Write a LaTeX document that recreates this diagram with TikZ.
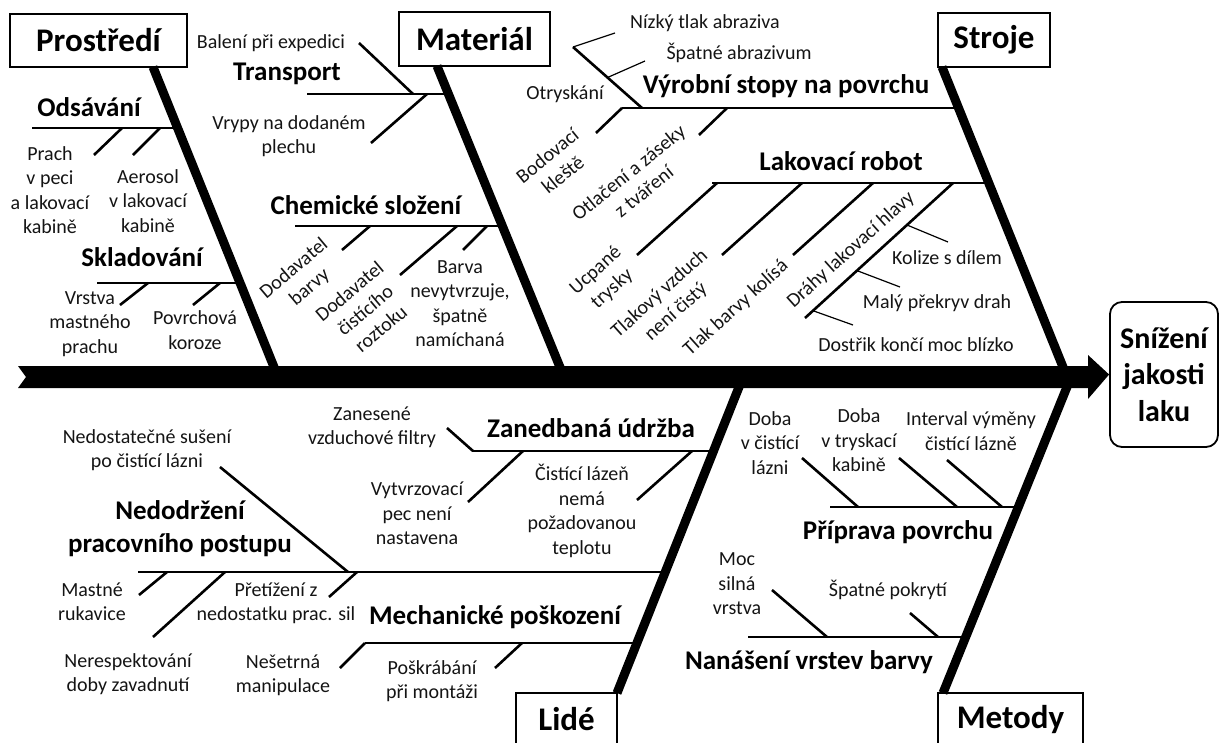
\documentclass[tikz,border=0pt]{standalone}
\usepackage{fontspec}
\setmainfont{Carlito}
\usetikzlibrary{calc}
\begin{document}
\begin{tikzpicture}[x=1pt,y=-1pt,
  small/.style={font=\fontsize{20}{24.4}\selectfont, align=center, inner sep=0pt, text=black!92},
  lbl/.style={font=\bfseries\fontsize{27}{33}\selectfont, align=center, inner sep=0pt},
  catbox/.style={draw, line width=1.2pt, font=\bfseries\fontsize{33}{38}\selectfont, inner sep=0pt},
  effbox/.style={draw, line width=1.8pt, rounded corners=12pt, font=\bfseries\fontsize{30}{36.6}\selectfont, align=center, inner sep=0pt},
  bone/.style={line width=2.6pt},
  hair/.style={line width=1.2pt},
  spine/.style={line width=9pt}]
\useasboundingbox (0,0) rectangle (1221,742);

% ---------- effect and main arrow ----------
\node[effbox, minimum width=108pt, minimum height=145pt] (eff) at (1164,374.5) {Snížení\\jakosti\\laku};
\coordinate (tail) at (26,377);
\fill (18,366) -- (1088,366) -- (1088,355) -- (eff.west) -- (1088,399) -- (1088,388) -- (18,388) -- (tail) -- cycle;

% ---------- category boxes ----------
\node[catbox, minimum width=177pt, minimum height=53pt] (env) at (98.5,40.5) {Prostředí};
\node[catbox, minimum width=151pt, minimum height=54pt] (mat) at (474.5,39) {Materiál};
\node[catbox, minimum width=112pt, minimum height=54pt] (mach) at (994,40) {Stroje};
\draw[line width=1.2pt] (516,760) |- (617,693) -- (617,760);
\node[font=\bfseries\fontsize{33}{38}\selectfont, inner sep=0pt] (ppl) at (566.5,719) {Lidé};
\draw[line width=1.2pt] (938,760) |- (1083,693) -- (1083,760);
\node[font=\bfseries\fontsize{33}{38}\selectfont, inner sep=0pt] (meth) at (1010.5,720) {Metody};

% ---------- spines ----------
\coordinate (envT) at (153,67);   \coordinate (envB) at (278,377);
\coordinate (matT) at (437,66);   \coordinate (matB) at (564,377);
\coordinate (macT) at (942,67);   \coordinate (macB) at (1067,377);
\coordinate (pplT) at (743,377);  \coordinate (pplB) at (617,693);
\coordinate (metT) at (1071,377); \coordinate (metB) at (943,693);
\draw[spine] (envT) -- (envB);
\draw[spine] (matT) -- (matB);
\draw[spine] (macT) -- (macB);
\draw[spine] (pplT) -- (pplB);
\draw[spine] (metT) -- (metB);

% ---------- Prostředí ----------
\node[lbl] (ods) at (89,107) {Odsávání};
\coordinate (odsS) at (32,128); \coordinate (odsJ) at (177.6,128);
\draw[bone] (odsS) -- (odsJ);
\coordinate (o1a) at (94,155); \coordinate (o1b) at (122,128);
\coordinate (o2a) at (133,155); \coordinate (o2b) at (160,128);
\draw[bone] (o1a) -- (o1b); \draw[bone] (o2a) -- (o2b);
\node[small] (prach) at (50,190) {Prach\\v peci\\a lakovací\\kabině};
\node[small] (aero) at (148,201) {Aerosol\\v lakovací\\kabině};

\node[lbl] (skl) at (142,257) {Skladování};
\coordinate (sklS) at (97,283); \coordinate (sklJ) at (240.1,283);
\draw[bone] (sklS) -- (sklJ);
\coordinate (s1a) at (120,305); \coordinate (s1b) at (148,283);
\coordinate (s2a) at (193,305); \coordinate (s2b) at (220,283);
\draw[bone] (s1a) -- (s1b); \draw[bone] (s2a) -- (s2b);
\node[small] (vrstva) at (90,324) {Vrstva\\mastného\\prachu};
\node[small] (koroze) at (195,330) {Povrchová\\koroze};

% ---------- Materiál ----------
\node[lbl] (trans) at (287,74) {Transport};
\coordinate (trS) at (307,94); \coordinate (trJ) at (448.4,94);
\draw[bone] (trS) -- (trJ);
\coordinate (t1a) at (359,43); \coordinate (t1b) at (413,94);
\coordinate (t2a) at (371,143); \coordinate (t2b) at (427,94);
\draw[bone] (t1a) -- (t1b); \draw[bone] (t2a) -- (t2b);
\node[small] (baleni) at (271,43) {Balení při expedici};
\node[small] (vrypy) at (289,136) {Vrypy na dodaném\\plechu};

\node[lbl] (chem) at (366,205) {Chemické složení};
\coordinate (chS) at (295,226); \coordinate (chJ) at (502.3,226);
\draw[bone] (chS) -- (chJ);
\coordinate (c1a) at (342,250); \coordinate (c1b) at (370,226);
\coordinate (c2a) at (400,275); \coordinate (c2b) at (457,226);
\coordinate (c3a) at (463,250); \coordinate (c3b) at (487,226);
\draw[bone] (c1a) -- (c1b); \draw[bone] (c2a) -- (c2b); \draw[bone] (c3a) -- (c3b);
\node[small, rotate=40] (dodb) at (302,278) {Dodavatel\\barvy};
\node[small, rotate=40] (dodc) at (365,310) {Dodavatel\\čistícího\\roztoku};
\node[small] (barva) at (460,303.5) {Barva\\nevytvrzuje,\\špatně\\namíchaná};

% ---------- Stroje ----------
\node[lbl] (vyr) at (786,86) {Výrobní stopy na povrchu};
\coordinate (vyS) at (622,108); \coordinate (vyJ) at (958.5,108);
\draw[bone] (vyS) -- (vyJ);
\coordinate (otA) at (573,47); \coordinate (otB) at (642,108);
\draw[bone] (otA) -- (otB);
\coordinate (ot1) at (615,33);
\draw[hair] (otA) -- (ot1);
\coordinate (ot2) at (645,61);
\draw[hair] ($(otA)!0.5!(otB)$) -- (ot2);
\node[small] (nizky) at (705,23) {Nízký tlak abraziva};
\node[small] (spatne) at (739,53) {Špatné abrazivum};
\node[small] (otrys) at (565,94) {Otryskání};
\coordinate (v1a) at (596,133); \coordinate (v1b) at (622,108);
\coordinate (v2a) at (699,135); \coordinate (v2b) at (727,108);
\draw[bone] (v1a) -- (v1b); \draw[bone] (v2a) -- (v2b);
\node[small, rotate=39] (bod) at (555,165) {Bodovací\\kleště};
\node[small, rotate=39] (otl) at (636,182) {Otlačení a záseky\\z tváření};

\node[lbl] (lak) at (841,161) {Lakovací robot};
\coordinate (lkS) at (712,183); \coordinate (lkJ) at (988.8,183);
\draw[bone] (lkS) -- (lkJ);
\coordinate (l1a) at (637,255); \coordinate (l1b) at (717,183);
\coordinate (l2a) at (722,255); \coordinate (l2b) at (802,183);
\coordinate (l3a) at (793,255); \coordinate (l3b) at (873,183);
\coordinate (l4a) at (805,318); \coordinate (l4b) at (953,183);
\draw[bone] (l1a) -- (l1b); \draw[bone] (l2a) -- (l2b); \draw[bone] (l3a) -- (l3b); \draw[bone] (l4a) -- (l4b);
\node[small, rotate=42] (ucp) at (604,280) {Ucpané\\trysky};
\node[small, rotate=42] (tlv) at (668,303) {Tlakový vzduch\\není čistý};
\node[small, rotate=42] (tlb) at (736,308) {Tlak barvy kolísá};
\node[small, rotate=42] (drahy) at (851,250) {Dráhy lakovací hlavy};
\coordinate (d1) at (948,242); \coordinate (d2) at (900,287); \coordinate (d3) at (853,325);
\draw[hair] ($(l4a)!0.689!(l4b)$) -- (d1);
\draw[hair] ($(l4a)!0.351!(l4b)$) -- (d2);
\draw[hair] ($(l4a)!0.054!(l4b)$) -- (d3);
\node[small] (kol) at (947,258) {Kolize s dílem};
\node[small] (maly) at (937,303) {Malý překryv drah};
\node[small] (dost) at (916,345) {Dostřik končí moc blízko};

% ---------- Lidé ----------
\node[lbl] (zan) at (591,428) {Zanedbaná údržba};
\coordinate (zaS) at (472,451); \coordinate (zaJ) at (713.5,451);
\draw[bone] (zaS) -- (zaJ);
\coordinate (z1a) at (447,428); \coordinate (z1b) at (473,451);
\coordinate (z2a) at (468,502); \coordinate (z2b) at (523,451);
\coordinate (z3a) at (637,500); \coordinate (z3b) at (692,451);
\draw[bone] (z1a) -- (z1b); \draw[bone] (z2a) -- (z2b); \draw[bone] (z3a) -- (z3b);
\node[small] (zanes) at (372,427.5) {Zanesené\\vzduchové filtry};
\node[small] (vytv) at (417,513.5) {Vytvrzovací\\pec není\\nastavena};
\node[small] (cist) at (582,511) {Čistící lázeň\\nemá\\požadovanou\\teplotu};

\node[lbl] (nedo) at (180,528.5) {Nedodržení\\pracovního postupu};
\coordinate (ndS) at (138,572); \coordinate (ndJ) at (665.3,572);
\draw[bone] (ndS) -- (ndJ);
\coordinate (n0a) at (220,467); \coordinate (n0b) at (348,572);
\coordinate (n1a) at (139,595); \coordinate (n1b) at (167,572);
\coordinate (n2a) at (153,637); \coordinate (n2b) at (225,572);
\coordinate (n3a) at (329,597); \coordinate (n3b) at (357,572);
\draw[bone] (n0a) -- (n0b); \draw[bone] (n1a) -- (n1b); \draw[bone] (n2a) -- (n2b); \draw[bone] (n3a) -- (n3b);
\node[small] (nedsus) at (147,450) {Nedostatečné sušení\\po čistící lázni};
\node[small] (mastne) at (92,601.5) {Mastné\\rukavice};
\node[small] (pret) at (276,603.5) {Přetížení z\\nedostatku prac. sil};
\node[small] (neres) at (128,674) {Nerespektování\\doby zavadnutí};

\node[lbl] (mech) at (495,617) {Mechanické poškození};
\coordinate (meS) at (365,643); \coordinate (meJ) at (637,643);
\draw[bone] (meS) -- (meJ);
\coordinate (m1a) at (340,668);
\coordinate (m2a) at (495,668); \coordinate (m2b) at (522,643);
\draw[bone] (m1a) -- (meS); \draw[bone] (m2a) -- (m2b);
\node[small] (nesetr) at (283,675) {Nešetrná\\manipulace};
\node[small] (poskr) at (432,681) {Poškrábání\\při montáži};

% ---------- Metody ----------
\node[lbl] (prip) at (898,532) {Příprava povrchu};
\coordinate (ppS) at (830,507); \coordinate (ppJ) at (1018.3,507);
\draw[bone] (ppS) -- (ppJ);
\coordinate (p1a) at (802,458); \coordinate (p1b) at (858,507);
\coordinate (p2a) at (899,458); \coordinate (p2b) at (957,507);
\coordinate (p3a) at (947,460); \coordinate (p3b) at (1002,507);
\draw[bone] (p1a) -- (p1b); \draw[bone] (p2a) -- (p2b); \draw[bone] (p3a) -- (p3b);
\node[small] (doba1) at (770,443) {Doba\\v čistící\\lázni};
\node[small] (doba2) at (859,440.5) {Doba\\v tryskací\\kabině};
\node[small] (interv) at (971,431) {Interval výměny\\čistící lázně};

\node[lbl] (nan) at (809,662) {Nanášení vrstev barvy};
\coordinate (naS) at (748,637); \coordinate (naJ) at (965.7,637);
\draw[bone] (naS) -- (naJ);
\coordinate (q1a) at (772,590); \coordinate (q1b) at (827,637);
\coordinate (q2a) at (910,613); \coordinate (q2b) at (938,637);
\draw[bone] (q1a) -- (q1b); \draw[bone] (q2a) -- (q2b);
\node[small] (moc) at (737,584) {Moc\\silná\\vrstva};
\node[small] (pokr) at (888,590) {Špatné pokrytí};
\end{tikzpicture}
\end{document}
